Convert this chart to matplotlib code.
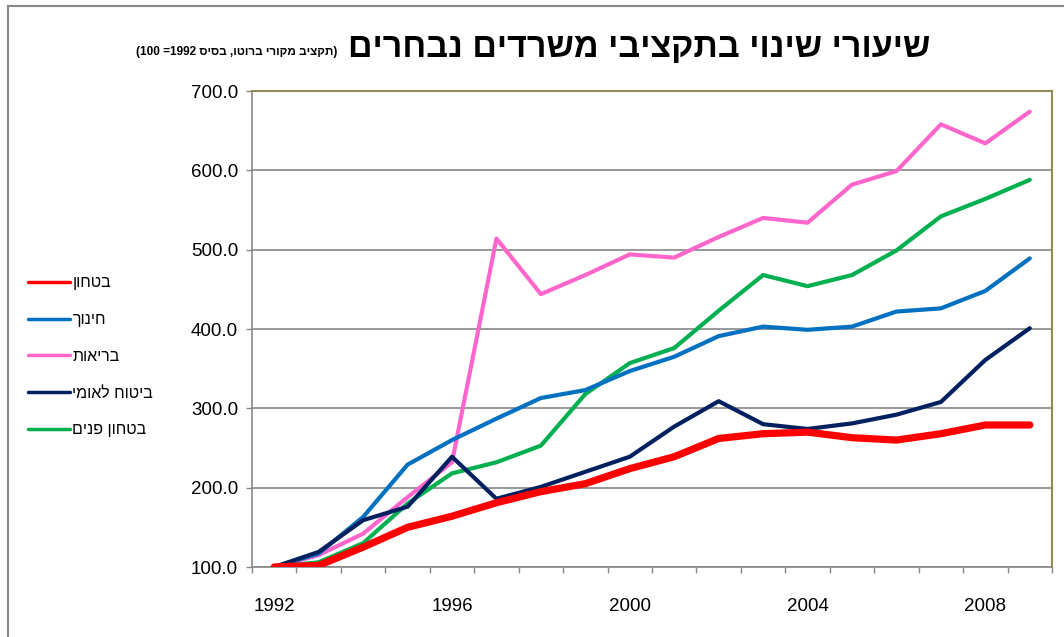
import matplotlib
matplotlib.use('Agg')
import matplotlib.pyplot as plt
from matplotlib.patches import Rectangle
from matplotlib.ticker import FormatStrFormatter

plt.rcParams['font.family'] = ['Liberation Sans', 'DejaVu Sans']


def heb(s):
    # matplotlib has no bidi support, so flip Hebrew to visual order
    return s[::-1]


# Data (base 1992 = 100)
years = list(range(1992, 2010))
defense = [100, 102, 125, 150, 164, 181, 195, 205, 224, 239, 262, 268, 270, 263, 260, 268, 279, 279]
education = [100, 117, 163, 229, 260, 287, 313, 323, 347, 365, 391, 403, 399, 403, 422, 426, 448, 489]
health = [100, 115, 142, 188, 232, 514, 444, 468, 494, 490, 516, 540, 534, 582, 599, 658, 634, 674]
national_ins = [100, 119, 159, 176, 239, 186, 201, 220, 239, 277, 309, 280, 274, 281, 292, 308, 361, 401]
internal_sec = [100, 106, 130, 180, 218, 232, 253, 318, 357, 376, 423, 468, 454, 468, 499, 542, 564, 588]

labels = ['בטחון', 'חינוך', 'בריאות', 'ביטוח לאומי', 'בטחון פנים']
colors = ['#FF0000', '#0070C0', '#FF66CC', '#002060', '#00B050']
tick_years = [1992, 1996, 2000, 2004, 2008]

fig = plt.figure(figsize=(10.64, 6.37), dpi=100)
ax = fig.add_axes([252 / 1064, 1 - 567 / 637, 800 / 1064, 476 / 637])

series = [defense, education, health, national_ins, internal_sec]
order = [2, 4, 1, 3, 0]  # draw red last, on top
lines = {}
for i in order:
    lw = 5.2 if i == 0 else 3
    ln, = ax.plot(years, series[i], color=colors[i], lw=lw, label=heb(labels[i]),
                  solid_joinstyle='round', solid_capstyle='round', zorder=3 + (i == 0))
    lines[i] = ln

ax.set_xlim(1991.5, 2009.5)
ax.set_ylim(100, 700)
ax.set_yticks(range(100, 701, 100))
ax.yaxis.set_major_formatter(FormatStrFormatter('%.1f'))
ax.set_xticks([y - 0.5 for y in years] + [2009.5])
ax.set_xticklabels([])
ax.set_xticks(tick_years, minor=True)
ax.set_xticklabels([str(y) for y in tick_years], minor=True)
ax.tick_params(axis='x', which='major', length=4, width=1, color='#888888', direction='out')
ax.tick_params(axis='x', which='minor', length=0, pad=22, labelsize=13.5)
ax.tick_params(axis='y', length=4, width=1, color='#888888', pad=6, labelsize=13.5)

ax.grid(axis='y', color='#888888', lw=1.2)
ax.set_axisbelow(True)
for s in ['left', 'bottom']:
    ax.spines[s].set_color('#888888')
    ax.spines[s].set_linewidth(1.2)
for s in ['top', 'right']:
    ax.spines[s].set_color('#948A54')
    ax.spines[s].set_linewidth(1.5)

# legend on the left
handles = [lines[i] for i in range(5)]
leg = fig.legend(handles, [heb(l) for l in labels], loc='upper left',
                 bbox_to_anchor=(14 / 1064, 1 - 261 / 637), frameon=False,
                 fontsize=11.5, handlelength=2.6, handletextpad=0.15, labelspacing=1.36)
for h in leg.get_lines():
    h.set_linewidth(2.5)

# titles
fig.text(930 / 1064, 1 - 57 / 637, heb('שיעורי שינוי בתקציבי משרדים נבחרים'),
         ha='right', va='baseline', fontsize=24.5, fontweight='bold')
fig.text(337 / 1064, 1 - 55 / 637, '(100 =1992 ' + heb('תקציב מקורי ברוטו, בסיס') + ')',
         ha='right', va='baseline', fontsize=8.5, fontweight='bold')

# chart frame
fig.add_artist(Rectangle((8 / 1064, -0.1), 1.2, 1 - 6 / 637 + 0.1, transform=fig.transFigure,
                         fill=False, edgecolor='#888888', lw=1.5))

fig.savefig('out.png', dpi=100)
